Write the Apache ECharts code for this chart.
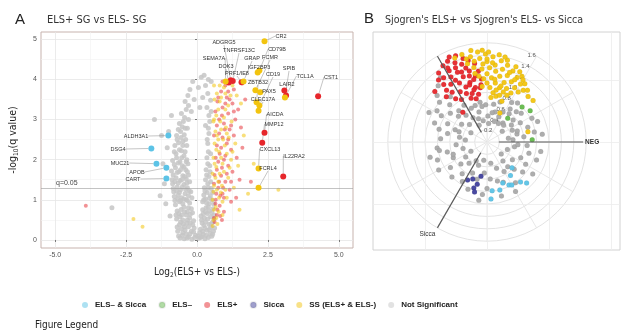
<!DOCTYPE html>
<html><head><meta charset="utf-8">
<script src="https://cdn.jsdelivr.net/npm/echarts@6/dist/echarts.min.js"></script>
<style>html,body{margin:0;padding:0;background:#fff}#c{width:621px;height:333px}</style>
</head><body><div id="c"></div>
<script>
// ---------- categories ----------
const classes = ['ELS– & Sicca', 'ELS–', 'ELS+', 'Sicca', 'SS (ELS+ & ELS-)', 'Not Significant'];

// ---------- panel A: volcano ----------
const volcanoXTicks = [-5, -2.5, 0, 2.5, 5];
const volcanoXMinor = [-3.75, -1.25, 1.25, 3.75];
const volcanoYTicks = [0, 1, 2, 3, 4, 5];
const volcanoYMinor = [0.5, 1.5, 2.5, 3.5, 4.5];
const qThreshold = 1.3;

const volcanoGray = [
[-0.6,0.05],[-0.45,0.03],[-0.3,0.08],[-0.18,0.02],[-0.08,0.06],[0.06,0.04],[0.16,0.08],[0.28,0.03],[0.4,0.06],[0.52,0.09],[-0.52,0.12],[-0.38,0.15],[0.22,0.14],[0.46,0.16],[-0.05,0.12],[0.1,0.18],
[-0.68,0.22],[-0.55,0.28],[-0.42,0.25],[-0.3,0.33],[-0.2,0.22],[-0.1,0.3],[0.12,0.27],[0.24,0.36],[0.35,0.24],[0.48,0.31],[0.58,0.22],[-0.62,0.38],[-0.48,0.4],[-0.35,0.42],[-0.15,0.38],[0.18,0.42],[0.3,0.45],[0.42,0.39],[0.55,0.44],
[-0.72,0.52],[-0.6,0.58],[-0.5,0.5],[-0.38,0.62],[-0.26,0.55],[-0.16,0.68],[0.14,0.6],[0.26,0.55],[0.36,0.66],[0.48,0.58],[0.6,0.52],[-0.7,0.72],[-0.56,0.76],[-0.44,0.7],[-0.3,0.8],[-0.2,0.78],[0.2,0.75],[0.32,0.8],[0.44,0.72],[0.56,0.78],
[-0.76,0.88],[-0.62,0.95],[-0.5,0.9],[-0.38,1.0],[-0.26,0.92],[-0.18,1.05],[0.2,0.95],[0.3,1.02],[0.42,0.9],[0.52,1.0],[-0.8,1.08],[-0.66,1.12],[-0.54,1.05],[-0.42,1.15],[-0.3,1.1],[-0.22,1.2],[0.24,1.12],[0.36,1.18],[0.47,1.1],
[-0.84,1.28],[-0.7,1.32],[-0.58,1.25],[-0.46,1.38],[-0.34,1.3],[-0.26,1.45],[0.26,1.3],[0.38,1.4],[0.5,1.28],[-0.88,1.5],[-0.74,1.55],[-0.6,1.48],[-0.5,1.6],[-0.38,1.52],[-0.3,1.62],[0.3,1.5],[0.42,1.58],
[-0.9,1.72],[-0.76,1.8],[-0.64,1.7],[-0.52,1.85],[-0.4,1.75],[-0.32,1.9],[0.32,1.75],[0.45,1.85],[-0.86,1.98],[-0.72,2.05],[-0.6,1.95],[-0.46,2.1],[-0.36,2.0],[0.35,2.05],[0.48,2.15],[-0.8,2.2],[-0.55,2.22],
[-0.78,2.35],[-0.65,2.42],[-0.5,2.35],[-0.4,2.5],[0.38,2.4],[-0.72,2.6],[-0.58,2.7],[-0.45,2.62],[-0.34,2.78],[0.42,2.65],[-0.62,2.9],[-0.48,2.95],[-0.3,3.0],[0.45,2.95],[0.3,2.85],
[-0.55,3.15],[-0.38,3.25],[-0.2,3.2],[0.35,3.3],[0.5,3.2],[-0.42,3.45],[-0.1,3.5],[0.2,3.55],[0.48,3.48],[-0.25,3.75],[0.05,3.8],[0.3,3.85],[0.4,4.0],[0.5,3.95],[0.15,4.05],
[-1.05,2.3],[-1.2,1.9],[-1.0,2.7],[-1.15,1.4],[-1.3,1.1],[-0.95,0.6],[-1.1,0.9],[-3.0,0.8],[-1.5,3.0],[-0.9,3.1],[-1.25,2.6],
[-0.65,0.1],[-0.5,0.18],[-0.35,0.05],[-0.25,0.15],[-0.12,0.2],[0.04,0.1],[0.12,0.06],[0.2,0.22],[0.32,0.12],[0.44,0.26],[0.55,0.14],[0.62,0.3],
[-0.7,0.32],[-0.58,0.45],[-0.44,0.33],[-0.34,0.5],[-0.24,0.42],[-0.12,0.48],[0.16,0.5],[0.28,0.3],[0.38,0.52],[0.5,0.4],[0.6,0.62],
[-0.74,0.62],[-0.64,0.66],[-0.54,0.62],[-0.46,0.82],[-0.34,0.7],[-0.24,0.64],[0.22,0.65],[0.3,0.7],[0.4,0.82],[0.52,0.68],[0.58,0.9],
[-0.78,0.98],[-0.68,1.02],[-0.58,0.98],[-0.46,1.02],[-0.34,0.98],[-0.28,1.22],[0.24,1.0],[0.34,0.92],[0.44,1.04],[0.55,1.18],
[-0.82,1.2],[-0.72,1.22],[-0.62,1.18],[-0.52,1.32],[-0.4,1.26],[-0.36,1.42],[0.28,1.22],[0.4,1.3],[0.48,1.45],
[-0.86,1.4],[-0.78,1.45],[-0.66,1.42],[-0.54,1.5],[-0.44,1.58],[-0.34,1.7],[0.34,1.62],[0.46,1.7],
[-0.84,1.62],[-0.7,1.68],[-0.58,1.75],[-0.46,1.82],[-0.38,1.95],[0.38,1.9],[-0.8,1.88],[-0.66,1.92],[-0.54,2.05],[-0.42,2.2],[0.4,2.2],
[-0.74,2.15],[-0.62,2.25],[-0.5,2.45],[-0.36,2.35],[0.36,2.5],[-0.7,2.5],[-0.56,2.55],[-0.42,2.78],[-0.52,2.82],[0.4,2.78],[-0.66,2.75],
[-0.44,3.05],[-0.3,3.35],[0.42,3.1],[-0.32,3.6],[0.1,3.3],[0.38,3.65],[-0.15,3.95],[0.25,4.1]
];
const volcanoRed = [
[0.62,0.45],[0.7,0.62],[0.8,0.85],[0.66,1.0],[0.9,1.15],[0.75,1.3],[1.0,1.45],[0.85,1.6],[0.7,1.75],[1.1,1.85],[0.95,2.0],[0.8,2.15],[1.2,2.25],[1.05,2.4],[0.9,2.55],[1.3,2.6],[1.15,2.75],[0.95,2.9],[1.35,3.0],[1.1,3.15],[0.9,3.3],[1.25,3.4],[1.05,3.55],[0.85,3.7],[1.3,3.75],[1.0,3.85],[0.7,2.35],[0.6,1.4],[1.25,1.7],[1.4,2.05],[0.78,3.0],[1.45,3.25],[1.55,2.8],[0.65,0.9],[1.15,1.25],[0.88,0.5],[1.5,1.5],[1.6,2.3],[1.9,1.45],[0.72,3.45],[1.2,0.95],[0.95,0.7],[1.38,1.05],[1.7,3.5],[1.6,3.9],[-3.92,0.85],
[0.6,0.55],[0.72,0.75],[0.82,0.6],[0.68,1.15],[0.78,1.45],[0.92,1.3],[0.62,1.62],[0.88,1.8],[0.75,1.95],[1.0,2.1],[0.66,2.05],[0.85,2.3],[1.1,2.5],[0.78,2.65],[0.98,2.75],[0.7,2.85],[1.2,2.85],[0.88,3.1],[1.0,3.4],[0.75,3.55],[1.15,3.5],[0.9,3.95],[1.1,3.7],[0.82,1.1],[1.05,1.65],[1.2,1.45],[0.6,2.6],[0.65,3.2],[1.3,3.2],[0.95,1.05]
];
const volcanoYellow = [
[0.55,0.35],[0.68,0.55],[0.6,0.75],[0.78,1.05],[0.58,1.2],[0.88,1.35],[0.65,1.55],[0.95,1.7],[0.62,1.9],[0.85,2.05],[1.05,2.15],[0.68,2.25],[0.98,2.35],[0.75,2.5],[1.12,2.55],[0.65,2.7],[1.02,2.8],[0.82,2.95],[1.22,2.95],[0.68,3.1],[1.0,3.25],[0.8,3.45],[1.18,3.6],[0.7,3.65],[0.95,3.8],[1.4,3.6],[1.55,3.4],[1.35,2.4],[1.45,1.85],[1.2,2.0],[1.1,1.55],[0.75,1.45],[1.3,1.3],[0.9,0.95],[0.72,0.4],[1.05,1.05],[0.58,2.05],[0.58,2.95],[1.65,2.6],[2.0,1.9],[2.87,1.25],[1.8,1.15],[1.5,0.75],[1.25,3.85],[0.6,3.85],[-2.24,0.52],[-1.92,0.33],
[0.58,0.5],[0.66,0.82],[0.76,0.7],[0.7,1.25],[0.84,1.18],[0.6,1.35],[0.8,1.65],[0.68,1.82],[0.9,1.9],[0.78,2.2],[0.62,2.4],[0.92,2.5],[0.7,2.6],[1.05,2.65],[0.85,2.75],[0.6,3.0],[0.95,3.05],[0.75,3.25],[1.1,3.35],[0.85,3.55],[0.62,3.5],[1.0,3.65],[0.8,3.85],[1.15,3.95],[0.55,1.0],[1.0,1.25],[1.15,1.8],[1.25,2.2],[0.55,1.65],[0.9,0.62]
];
// gene, log2FC, -log10 q, class
const labeledGenes = [
['CR2',2.38,4.95,'SS (ELS+ & ELS-)'],['CD79B',2.2,4.22,'SS (ELS+ & ELS-)'],['IGF2BP3',2.14,4.17,'SS (ELS+ & ELS-)'],
['ADGRG5',1.19,3.98,'ELS+'],['TNFRSF13C',1.26,3.96,'ELS+'],['SEMA7A',1.01,3.95,'SS (ELS+ & ELS-)'],['GRAP',1.64,3.95,'SS (ELS+ & ELS-)'],
['DOK3',1.12,3.92,'ELS+'],['PRF1/IE8',1.57,3.93,'ELS+'],['FCMR',2.06,3.73,'SS (ELS+ & ELS-)'],['PAX5',2.23,3.68,'SS (ELS+ & ELS-)'],
['ZBTB32',2.1,3.43,'SS (ELS+ & ELS-)'],['CD19',2.2,3.35,'SS (ELS+ & ELS-)'],['CLEC17A',2.17,3.22,'SS (ELS+ & ELS-)'],
['SPIB',3.1,3.55,'SS (ELS+ & ELS-)'],['LAIR2',3.08,3.72,'ELS+'],['TCL1A',3.14,3.6,'ELS+'],['CST1',4.27,3.58,'ELS+'],
['AICDA',2.38,2.67,'ELS+'],['MMP12',2.3,2.42,'ELS+'],['CXCL13',2.17,1.78,'SS (ELS+ & ELS-)'],['IL22RA2',3.04,1.58,'ELS+'],['FCRL4',2.17,1.3,'SS (ELS+ & ELS-)'],
['ALDH3A1',-1.01,2.6,'ELS– & Sicca'],['DSG4',-1.61,2.28,'ELS– & Sicca'],['MUC21',-1.43,1.9,'ELS– & Sicca'],['APOB',-1.08,1.8,'ELS– & Sicca'],['CART',-1.08,1.53,'ELS– & Sicca']
];

// ---------- panel B: radial ----------
const radialRings = [0.2, 0.4, 0.6, 0.8, 1.0, 1.2, 1.4, 1.6];
const radialAxisNames = ['POS', 'NEG', 'Sicca'];
const radialAxisAngles = [120, 0, 240];
const radialAxisStart = [0.18, 0.19, 0.2];
const radialAxisEnd = [1.63, 1.55, 1.6];
// [radius, angle in degrees, counter-clockwise from NEG]
const radialRed = [[1.45,116],[1.38,112],[1.42,120],[1.32,108],[1.3,118],[1.25,124],[1.22,113],[1.18,104],[1.2,119],[1.12,110],[1.1,122],[1.08,100],[1.05,115],[1.0,106],[0.98,125],[0.95,111],[0.92,118],[0.9,102],[0.88,97],[0.85,113],[0.82,107],[0.8,121],[0.78,100],[1.35,103],[1.28,99],[1.15,97],[1.02,95],[0.93,96],[1.4,106],[1.48,110],[1.5,114],[1.36,125],[1.27,128],[1.16,127],[1.06,128],[0.86,126],[0.75,110],[0.72,104],[1.17,136],[1.35,118],[0.62,129],[0.98,132],[1.24,106],[1.12,117],[1.03,102],[0.96,107],[1.3,113],[1.2,110],[1.1,105],[0.87,104]];
const radialYellow = [[1.5,100],[1.47,106],[1.45,111],[1.46,96],[1.42,91],[1.38,86],[1.33,80],[1.28,75],[1.22,70],[1.15,65],[1.08,60],[1.02,55],[1.4,101],[1.35,95],[1.3,90],[1.25,84],[1.2,78],[1.12,73],[1.05,68],[0.98,63],[0.95,58],[1.32,99],[1.26,93],[1.2,88],[1.15,83],[1.08,79],[1.0,74],[0.92,70],[0.88,64],[1.18,94],[1.1,90],[1.04,86],[0.96,82],[0.9,77],[0.85,72],[0.82,67],[1.02,93],[0.95,90],[0.88,87],[0.8,83],[0.75,79],[0.9,95],[1.42,82],[1.36,76],[1.3,69],[1.2,62],[1.12,57],[1.45,89],[1.38,104],[1.3,104],[1.22,100],[1.48,93],[1.4,78],[1.25,65],[1.16,60],[1.06,52],[0.99,48],[1.0,42],[0.68,14],[0.51,66],[0.78,75],[0.72,85],[0.7,70],[1.28,86],[1.34,90],[1.18,72],[1.1,66],[0.93,76],[0.85,80],[1.02,83],[1.07,97],[1.12,100]];
const radialGreen = [[0.8,45],[0.86,36],[0.51,49],[0.73,3]];
const radialBlue = [[0.58,314],[0.84,310],[0.92,314],[0.71,291],[0.8,285],[0.79,276],[0.92,274],[0.78,297],[0.8,300],[0.66,305]];
const radialPurple = [[0.69,243],[0.56,260],[0.7,257],[0.77,254],[0.83,256],[0.64,249]];
const radialGray = [
[0.35,10],[0.45,25],[0.6,8],[0.55,40],[0.7,20],[0.4,50],[0.65,55],[0.78,12],[0.5,15],[0.3,35],[0.82,28],[0.72,40],[0.62,30],[0.88,22],[0.42,5],[0.9,8],[0.58,52],[0.48,35],[0.75,58],[0.68,46],[0.35,58],
[0.35,70],[0.5,75],[0.62,80],[0.42,88],[0.6,92],[0.3,85],[0.68,72],[0.55,62],[0.45,65],
[0.35,100],[0.5,105],[0.6,115],[0.45,120],[0.65,100],[0.3,115],[0.55,128],[0.7,122],[0.62,108],
[0.94,129],[1.28,126],[1.2,131],[1.1,137],[1.0,140],[0.85,135],[0.75,142],[0.62,138],[0.5,145],[0.4,135],[0.3,150],[0.55,159],[0.7,155],[0.85,150],[0.95,148],[0.65,168],[0.8,165],[0.45,170],[0.35,175],[0.9,160],[0.75,176],[1.05,153],
[0.81,187],[0.66,194],[0.6,205],[0.5,185],[0.4,195],[0.3,210],[0.72,215],[0.85,200],[0.55,220],[0.45,230],[0.65,232],[0.8,225],[0.35,240],[0.9,210],[0.75,238],[0.58,200],[0.95,195],
[0.4,250],[0.5,265],[0.35,280],[0.6,275],[0.45,290],[0.65,285],[0.55,245],[0.85,265],[0.75,270],[0.9,285],[0.3,260],[0.7,292],[0.82,248],[0.95,262],
[0.4,310],[0.5,325],[0.35,340],[0.6,335],[0.45,350],[0.65,355],[0.75,320],[0.85,340],[0.9,325],[0.55,300],[0.7,345],[0.8,305],[0.3,320],[0.62,315],[0.92,300],[0.5,355],
[0.52,20],[0.38,45],[0.8,52],[0.48,80],[0.58,98],[0.4,110],[0.68,132],[0.78,190],[0.42,215],[0.62,255],[0.52,310],[0.72,330],[0.88,350],[0.48,160]
];

// ---------- layout / style tables ----------
const palette = {
  'ELS– & Sicca': '#5cc3e6', 'ELS–': '#63b94b', 'ELS+': '#e6262b',
  'Sicca': '#40409c', 'SS (ELS+ & ELS-)': '#f2c40f', 'Not Significant': '#c6c6c6'
};
const geneLabelPos = {
  CR2:[281,36], CD79B:[277,49], IGF2BP3:[259,67], ADGRG5:[224,42], TNFRSF13C:[239,50], SEMA7A:[214,58],
  GRAP:[252,58], DOK3:[226,66], 'PRF1/IE8':[237,73], FCMR:[270,57], PAX5:[269,91], ZBTB32:[258,82],
  CD19:[273,74], CLEC17A:[263,99], SPIB:[289,68], LAIR2:[287,84], TCL1A:[305,76], CST1:[331,77],
  AICDA:[275,114], MMP12:[274,124], CXCL13:[270,149], IL22RA2:[294,156], FCRL4:[268,168],
  ALDH3A1:[136,136], DSG4:[118,149], MUC21:[120,163], APOB:[137,172], CART:[133,179]
};
const FONT = "'Liberation Sans', Arial, sans-serif";
const NARROW = "'Liberation Sans Narrow', 'DejaVu Sans Condensed', 'Liberation Sans', sans-serif";
const polarCenter = [487, 142];
const pxPerUnit = 62;

const toAngle = a => (a < 60 ? a + 360 : a);
const polarData = arr => arr.map(p => [p[0], toAngle(p[1])]);

const chart = echarts.init(document.getElementById('c'));
const series = [];

// volcano
series.push({
  name: 'Not Significant', type: 'scatter', xAxisIndex: 0, yAxisIndex: 0, data: volcanoGray,
  symbolSize: 5, itemStyle: { color: palette['Not Significant'], opacity: 0.85 }, z: 2, silent: true,
  markLine: {
    silent: true, symbol: 'none', data: [{ yAxis: qThreshold }],
    lineStyle: { color: '#9a9a9a', width: 0.6, type: 'solid' },
    label: { show: true, position: 'insideStartTop', formatter: 'q=0.05', fontSize: 7, color: '#444', fontFamily: FONT, distance: [15, 1] }
  }
});
series.push({ name: 'ELS+', type: 'scatter', xAxisIndex: 0, yAxisIndex: 0, data: volcanoRed, symbolSize: 4,
  itemStyle: { color: palette['ELS+'], opacity: 0.5 }, z: 3, silent: true });
series.push({ name: 'SS (ELS+ & ELS-)', type: 'scatter', xAxisIndex: 0, yAxisIndex: 0, data: volcanoYellow, symbolSize: 4,
  itemStyle: { color: palette['SS (ELS+ & ELS-)'], opacity: 0.55 }, z: 3, silent: true });
classes.forEach(cls => {
  const genes = labeledGenes.filter(g => g[3] === cls);
  if (!genes.length) return;
  series.push({
    name: cls, type: 'scatter', xAxisIndex: 0, yAxisIndex: 0, z: 5, silent: true,
    data: genes.map(g => ({ name: g[0], value: [g[1], g[2]] })),
    symbolSize: 6, itemStyle: { color: palette[cls], opacity: 1 },
    label: { show: true, formatter: '{b}', position: 'inside', fontSize: 5.5, color: '#333', fontFamily: FONT },
    labelLine: { show: true, lineStyle: { color: '#8a8a8a', width: 0.5 } },
    labelLayout: p => {
      const pos = geneLabelPos[p.text];
      return pos ? { x: pos[0], y: pos[1], align: 'center', verticalAlign: 'middle' } : {};
    }
  });
});

// radial
const radialSets = [
  ['Not Significant', radialGray, '#a9a9a9'],
  ['ELS– & Sicca', radialBlue, null], ['Sicca', radialPurple, null], ['ELS–', radialGreen, null],
  ['ELS+', radialRed, null], ['SS (ELS+ & ELS-)', radialYellow, null]
];
radialSets.forEach(s => {
  series.push({ name: s[0], type: 'scatter', coordinateSystem: 'polar', polarIndex: 0, data: polarData(s[1]),
    symbolSize: 5, itemStyle: { color: s[2] || palette[s[0]], opacity: 0.95, borderColor: 'rgba(0,0,0,0.12)', borderWidth: 0.4 }, z: 4, silent: true });
});
const axisLabelStyle = [
  { position: 'inside', offset: [-12, -9], fontWeight: 'bold' },
  { position: 'right', distance: 2, fontWeight: 'bold' },
  { position: 'inside', offset: [-10, 6], fontWeight: 'normal' }
];
radialAxisNames.forEach((nm, i) => {
  const a = toAngle(radialAxisAngles[i]);
  series.push({
    name: 'axis-' + nm, type: 'line', coordinateSystem: 'polar', polarIndex: 0, z: 6, silent: true,
    symbol: 'circle', symbolSize: 0.01, showSymbol: true, animation: false,
    lineStyle: { color: '#5a5a5a', width: 1.2 },
    data: [
      { value: [radialAxisStart[i], a], label: { show: false } },
      { value: [radialAxisEnd[i], a], label: Object.assign({ show: true, formatter: nm, fontSize: 6.5, color: '#333', fontFamily: FONT }, axisLabelStyle[i]) }
    ]
  });
});

const gridB = { left: 373, top: 32, right: 1, bottom: 83 };
const gbXmin = (gridB.left - polarCenter[0]) / pxPerUnit;
const gbXmax = (621 - gridB.right - polarCenter[0]) / pxPerUnit;
const gbYmin = (polarCenter[1] - (333 - gridB.bottom)) / pxPerUnit;
const gbYmax = (polarCenter[1] - gridB.top) / pxPerUnit;

const hiddenAxisBits = { axisLine: { show: false }, axisLabel: { show: false } };

const option = {
  animation: false,
  backgroundColor: '#fff',
  grid: [
    { left: 37, top: 32, width: 316, height: 216, show: true, borderColor: '#c7b3ae', borderWidth: 1 },
    Object.assign({ show: true, borderColor: '#d2d2d2', borderWidth: 1 }, gridB)
  ],
  xAxis: [
    { gridIndex: 0, type: 'value', min: -5.5, max: 5.5,
      name: '{m|Log}{s|2}{m|(ELS+ vs ELS-)}', nameLocation: 'middle', nameGap: 18,
      nameTextStyle: { rich: { m: { fontSize: 10, fontFamily: NARROW, color: '#222' }, s: { fontSize: 6.5, fontFamily: NARROW, color: '#222', padding: [6, 0, 0, 0] } } },
      axisLine: { show: false },
      axisTick: { show: true, length: 2, lineStyle: { color: '#777' }, customValues: volcanoXTicks },
      axisLabel: { fontSize: 7, color: '#555', margin: 4, fontFamily: FONT, customValues: volcanoXTicks, formatter: v => v.toFixed(1) },
      splitLine: { show: true, lineStyle: { color: '#e6e6e6', width: 0.8 } } },
    Object.assign({ gridIndex: 0, type: 'value', min: -5.5, max: 5.5, position: 'top',
      axisTick: { show: false, customValues: volcanoXMinor },
      splitLine: { show: true, lineStyle: { color: '#f1f1f1', width: 0.6 } } }, hiddenAxisBits),
    Object.assign({ gridIndex: 1, type: 'value', min: gbXmin, max: gbXmax,
      axisTick: { show: false, customValues: [-1, 0, 1, 2] },
      splitLine: { show: true, lineStyle: { color: '#ececec', width: 0.8 } } }, hiddenAxisBits)
  ],
  yAxis: [
    { gridIndex: 0, type: 'value', min: -0.2, max: 5.18,
      name: '{m|-log}{s|10}{m|(q value)}', nameLocation: 'middle', nameGap: 21,
      nameTextStyle: { rich: { m: { fontSize: 10.5, fontFamily: NARROW, color: '#222' }, s: { fontSize: 6.5, fontFamily: NARROW, color: '#222', padding: [6, 0, 0, 0] } } },
      axisLine: { show: false },
      axisTick: { show: true, length: 2, lineStyle: { color: '#777' }, customValues: volcanoYTicks },
      axisLabel: { fontSize: 7, color: '#555', margin: 4, fontFamily: FONT, customValues: volcanoYTicks },
      splitLine: { show: true, lineStyle: { color: '#e6e6e6', width: 0.8 } } },
    Object.assign({ gridIndex: 0, type: 'value', min: -0.2, max: 5.18, position: 'right',
      axisTick: { show: false, customValues: volcanoYMinor },
      splitLine: { show: true, lineStyle: { color: '#f1f1f1', width: 0.6 } } }, hiddenAxisBits),
    Object.assign({ gridIndex: 1, type: 'value', min: gbYmin, max: gbYmax,
      axisTick: { show: false, customValues: [-1, 0, 1] },
      splitLine: { show: true, lineStyle: { color: '#ececec', width: 0.8 } } }, hiddenAxisBits)
  ],
  polar: [{ center: polarCenter, radius: [0, radialRings[radialRings.length - 1] * pxPerUnit] }],
  angleAxis: [{ polarIndex: 0, type: 'value', min: 60, max: 420, interval: 30, startAngle: 60, clockwise: false,
    axisLine: { show: false }, axisTick: { show: false }, axisLabel: { show: false },
    splitLine: { show: true, lineStyle: { color: '#e2e2e2', width: 0.8 } } }],
  radiusAxis: [{ polarIndex: 0, type: 'value', min: 0, max: radialRings[radialRings.length - 1], interval: 0.2,
    axisLine: { show: false }, axisTick: { show: false },
    axisLabel: { show: true, fontSize: 6, color: '#555', fontFamily: FONT, margin: 1, padding: [0, 0, 13, 8],
      formatter: v => (v === 0 ? '' : v.toFixed(1)) },
    splitLine: { show: true, lineStyle: { color: '#dcdcdc', width: 0.8 } } }],
  legend: {
    data: classes, left: 77, top: 296, icon: 'circle', itemWidth: 6, itemHeight: 6, itemGap: 12,
    selectedMode: false, itemStyle: { opacity: 0.5 },
    textStyle: { fontSize: 8, fontWeight: 'bold', color: '#222', fontFamily: FONT, padding: [0, 0, 0, 2] }
  },
  graphic: [
    { type: 'text', x: 15, y: 20, style: { text: 'A', fontSize: 15, fill: '#222', fontFamily: FONT, textVerticalAlign: 'middle' } },
    { type: 'text', x: 47, y: 20, style: { text: 'ELS+ SG vs ELS- SG', fontSize: 11, fill: '#333', fontFamily: NARROW, textVerticalAlign: 'middle' } },
    { type: 'text', x: 364, y: 19, style: { text: 'B', fontSize: 15, fill: '#222', fontFamily: FONT, textVerticalAlign: 'middle' } },
    { type: 'text', x: 385, y: 20, style: { text: "Sjogren's ELS+ vs Sjogren's ELS- vs Sicca", fontSize: 10.6, fill: '#333', fontFamily: NARROW, textVerticalAlign: 'middle' } },
    { type: 'text', x: 35, y: 325, style: { text: 'Figure Legend', fontSize: 10, fill: '#222', fontFamily: NARROW, textVerticalAlign: 'middle' } }
  ],
  series: series
};
chart.setOption(option);
</script></body></html>
